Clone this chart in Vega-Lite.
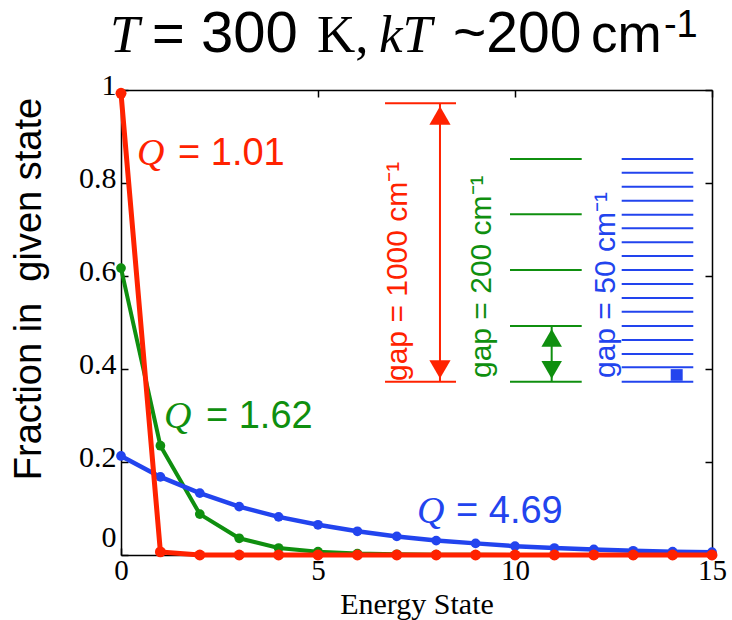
{
  "$schema": "https://vega.github.io/schema/vega-lite/v6.json",
  "width": 591,
  "height": 465,
  "autosize": {"type": "none"},
  "padding": {"left": 121, "top": 90, "right": 20, "bottom": 65},
  "background": "white",
  "config": {
    "view": {"stroke": null},
    "axis": {"domainColor": "black", "tickColor": "black", "domainWidth": 1.5, "tickWidth": 1.5, "grid": false, "labelFlush": false, "labelBound": false}
  },
  "data": {"values": [{}]},
  "datasets": {
    "states": [
      {"n": 0, "frac": 0.993, "gap": "1000"}, {"n": 1, "frac": 0.0067, "gap": "1000"}, {"n": 2, "frac": 0, "gap": "1000"}, {"n": 3, "frac": 0, "gap": "1000"},
      {"n": 4, "frac": 0, "gap": "1000"}, {"n": 5, "frac": 0, "gap": "1000"}, {"n": 6, "frac": 0, "gap": "1000"}, {"n": 7, "frac": 0, "gap": "1000"},
      {"n": 8, "frac": 0, "gap": "1000"}, {"n": 9, "frac": 0, "gap": "1000"}, {"n": 10, "frac": 0, "gap": "1000"}, {"n": 11, "frac": 0, "gap": "1000"},
      {"n": 12, "frac": 0, "gap": "1000"}, {"n": 13, "frac": 0, "gap": "1000"}, {"n": 14, "frac": 0, "gap": "1000"}, {"n": 15, "frac": 0, "gap": "1000"},
      {"n": 0, "frac": 0.617, "gap": "200"}, {"n": 1, "frac": 0.235, "gap": "200"}, {"n": 2, "frac": 0.088, "gap": "200"}, {"n": 3, "frac": 0.036, "gap": "200"},
      {"n": 4, "frac": 0.015, "gap": "200"}, {"n": 5, "frac": 0.007, "gap": "200"}, {"n": 6, "frac": 0.003, "gap": "200"}, {"n": 7, "frac": 0.0015, "gap": "200"},
      {"n": 8, "frac": 0.0007, "gap": "200"}, {"n": 9, "frac": 0.0003, "gap": "200"}, {"n": 10, "frac": 0.0001, "gap": "200"}, {"n": 11, "frac": 0, "gap": "200"},
      {"n": 12, "frac": 0, "gap": "200"}, {"n": 13, "frac": 0, "gap": "200"}, {"n": 14, "frac": 0, "gap": "200"}, {"n": 15, "frac": 0, "gap": "200"},
      {"n": 0, "frac": 0.213, "gap": "50"}, {"n": 1, "frac": 0.168, "gap": "50"}, {"n": 2, "frac": 0.133, "gap": "50"}, {"n": 3, "frac": 0.104, "gap": "50"},
      {"n": 4, "frac": 0.082, "gap": "50"}, {"n": 5, "frac": 0.065, "gap": "50"}, {"n": 6, "frac": 0.051, "gap": "50"}, {"n": 7, "frac": 0.04, "gap": "50"},
      {"n": 8, "frac": 0.031, "gap": "50"}, {"n": 9, "frac": 0.025, "gap": "50"}, {"n": 10, "frac": 0.019, "gap": "50"}, {"n": 11, "frac": 0.015, "gap": "50"},
      {"n": 12, "frac": 0.012, "gap": "50"}, {"n": 13, "frac": 0.009, "gap": "50"}, {"n": 14, "frac": 0.007, "gap": "50"}, {"n": 15, "frac": 0.006, "gap": "50"}
    ]
  },
  "layer": [
    {
      "data": {"name": "states"},
      "transform": [{"filter": "datum.gap === '200'"}],
      "mark": {"type": "line", "color": "#0f8f0f", "strokeWidth": 4, "point": {"filled": true, "size": 95, "color": "#0f8f0f"}},
      "encoding": {
        "x": {"field": "n", "type": "quantitative", "scale": {"domain": [0, 15], "nice": false, "zero": false},
          "axis": {"orient": "bottom", "values": [0, 5, 10, 15], "format": "~g", "labelFont": "Liberation Serif", "labelFontSize": 29, "labelColor": "black", "tickSize": -7, "labelPadding": 31, "labelBaseline": "alphabetic",
            "title": "Energy State", "titleFont": "Liberation Serif", "titleFontSize": 30, "titleFontWeight": "normal", "titleColor": "black", "titleY": 58, "titleBaseline": "alphabetic"}},
        "y": {"field": "frac", "type": "quantitative", "scale": {"domain": [0, 1], "nice": false, "zero": false},
          "axis": {"orient": "left", "values": [0, 0.2, 0.4, 0.6, 0.8, 1], "format": "~g", "labelFont": "Liberation Serif", "labelFontSize": 30, "labelColor": "black", "tickSize": -7, "labelPadding": 12, "labelBaseline": "middle",
            "labelOffset": {"condition": {"test": "datum.value === 0", "value": -18}, "value": -5},
            "title": "Fraction in \u00a0given state", "titleFont": "Liberation Sans", "titleFontSize": 38, "titleFontWeight": "normal", "titleColor": "black", "titleAngle": 270, "titleX": -80.5, "titleY": 198.5, "titleAlign": "center", "titleBaseline": "alphabetic"}}
      }
    },
    {
      "data": {"name": "states"},
      "transform": [{"filter": "datum.gap === '50'"}],
      "mark": {"type": "line", "color": "#2244ee", "strokeWidth": 4.5, "point": {"filled": true, "size": 95, "color": "#2244ee"}},
      "encoding": {
        "x": {"field": "n", "type": "quantitative", "scale": {"domain": [0, 15], "nice": false, "zero": false},
          "axis": {"orient": "top", "values": [0, 5, 10, 15], "labels": false, "tickSize": -7, "title": null}},
        "y": {"field": "frac", "type": "quantitative", "scale": {"domain": [0, 1], "nice": false, "zero": false},
          "axis": {"orient": "right", "values": [0, 0.2, 0.4, 0.6, 0.8, 1], "labels": false, "tickSize": -7, "title": null}}
      }
    },
    {
      "data": {"name": "states"},
      "transform": [{"filter": "datum.gap === '1000'"}],
      "mark": {"type": "line", "color": "#ff2200", "strokeWidth": 5, "point": {"filled": true, "size": 120, "color": "#ff2200"}},
      "encoding": {
        "x": {"field": "n", "type": "quantitative", "scale": {"domain": [0, 15], "nice": false, "zero": false}, "axis": null},
        "y": {"field": "frac", "type": "quantitative", "scale": {"domain": [0, 1], "nice": false, "zero": false}, "axis": null}
      }
    },
    {
      "data": {"values": [{"e": 0.3727}, {"e": 0.9714}]},
      "mark": {"type": "rule", "color": "#ff2200", "strokeWidth": 2},
      "encoding": {
        "x": {"datum": 6.701, "type": "quantitative", "scale": {"domain": [0, 15], "nice": false, "zero": false}, "axis": null},
        "x2": {"datum": 8.503},
        "y": {"field": "e", "type": "quantitative", "scale": {"domain": [0, 1], "nice": false, "zero": false}, "axis": null}
      }
    },
    {
      "data": {"values": [{"e": 0.3727}, {"e": 0.4925}, {"e": 0.6129}, {"e": 0.7327}, {"e": 0.8516}]},
      "mark": {"type": "rule", "color": "#0f8f0f", "strokeWidth": 2},
      "encoding": {
        "x": {"datum": 9.873, "type": "quantitative", "scale": {"domain": [0, 15], "nice": false, "zero": false}, "axis": null},
        "x2": {"datum": 11.693},
        "y": {"field": "e", "type": "quantitative", "scale": {"domain": [0, 1], "nice": false, "zero": false}, "axis": null}
      }
    },
    {
      "data": {"values": [{"e": 0.3727}, {"e": 0.4037}, {"e": 0.4323}, {"e": 0.4624}, {"e": 0.4925}, {"e": 0.5232}, {"e": 0.5527}, {"e": 0.5828}, {"e": 0.6129}, {"e": 0.643}, {"e": 0.6725}, {"e": 0.7026}, {"e": 0.7318}, {"e": 0.7619}, {"e": 0.792}, {"e": 0.8222}, {"e": 0.8516}]},
      "mark": {"type": "rule", "color": "#2244ee", "strokeWidth": 2},
      "encoding": {
        "x": {"datum": 12.708, "type": "quantitative", "scale": {"domain": [0, 15], "nice": false, "zero": false}, "axis": null},
        "x2": {"datum": 14.525},
        "y": {"field": "e", "type": "quantitative", "scale": {"domain": [0, 1], "nice": false, "zero": false}, "axis": null}
      }
    },
    {
      "mark": {"type": "rule", "color": "#ff2200", "strokeWidth": 2},
      "encoding": {
        "x": {"datum": 8.096, "type": "quantitative", "scale": {"domain": [0, 15], "nice": false, "zero": false}, "axis": null},
        "y": {"datum": 0.3727, "type": "quantitative", "scale": {"domain": [0, 1], "nice": false, "zero": false}, "axis": null},
        "y2": {"datum": 0.9714}
      }
    },
    {
      "mark": {"type": "point", "shape": "triangle-up", "filled": true, "size": 450, "color": "#ff2200", "opacity": 1},
      "encoding": {
        "x": {"datum": 8.096, "type": "quantitative", "scale": {"domain": [0, 15], "nice": false, "zero": false}, "axis": null},
        "y": {"datum": 0.9452, "type": "quantitative", "scale": {"domain": [0, 1], "nice": false, "zero": false}, "axis": null}
      }
    },
    {
      "mark": {"type": "point", "shape": "triangle-down", "filled": true, "size": 450, "color": "#ff2200", "opacity": 1},
      "encoding": {
        "x": {"datum": 8.096, "type": "quantitative", "scale": {"domain": [0, 15], "nice": false, "zero": false}, "axis": null},
        "y": {"datum": 0.3991, "type": "quantitative", "scale": {"domain": [0, 1], "nice": false, "zero": false}, "axis": null}
      }
    },
    {
      "mark": {"type": "rule", "color": "#0f8f0f", "strokeWidth": 2},
      "encoding": {
        "x": {"datum": 10.931, "type": "quantitative", "scale": {"domain": [0, 15], "nice": false, "zero": false}, "axis": null},
        "y": {"datum": 0.3727, "type": "quantitative", "scale": {"domain": [0, 1], "nice": false, "zero": false}, "axis": null},
        "y2": {"datum": 0.4925}
      }
    },
    {
      "mark": {"type": "point", "shape": "triangle-up", "filled": true, "size": 420, "color": "#0f8f0f", "opacity": 1},
      "encoding": {
        "x": {"datum": 10.931, "type": "quantitative", "scale": {"domain": [0, 15], "nice": false, "zero": false}, "axis": null},
        "y": {"datum": 0.4671, "type": "quantitative", "scale": {"domain": [0, 1], "nice": false, "zero": false}, "axis": null}
      }
    },
    {
      "mark": {"type": "point", "shape": "triangle-down", "filled": true, "size": 420, "color": "#0f8f0f", "opacity": 1},
      "encoding": {
        "x": {"datum": 10.931, "type": "quantitative", "scale": {"domain": [0, 15], "nice": false, "zero": false}, "axis": null},
        "y": {"datum": 0.3981, "type": "quantitative", "scale": {"domain": [0, 1], "nice": false, "zero": false}, "axis": null}
      }
    },
    {
      "mark": {"type": "rule", "color": "#2244ee", "strokeWidth": 12},
      "encoding": {
        "x": {"datum": 14.104, "type": "quantitative", "scale": {"domain": [0, 15], "nice": false, "zero": false}, "axis": null},
        "y": {"datum": 0.3747, "type": "quantitative", "scale": {"domain": [0, 1], "nice": false, "zero": false}, "axis": null},
        "y2": {"datum": 0.3997}
      }
    },
    {
      "mark": {"type": "text", "text": "gap = 1000 cm\u207b\u00b9", "angle": 270, "align": "left", "baseline": "alphabetic", "font": "Liberation Sans", "fontSize": 30, "color": "#ff2200"},
      "encoding": {
        "x": {"datum": 7.259, "type": "quantitative", "scale": {"domain": [0, 15], "nice": false, "zero": false}, "axis": null},
        "y": {"datum": 0.3742, "type": "quantitative", "scale": {"domain": [0, 1], "nice": false, "zero": false}, "axis": null}
      }
    },
    {
      "mark": {"type": "text", "text": "gap = 200 cm\u207b\u00b9", "angle": 270, "align": "left", "baseline": "alphabetic", "font": "Liberation Sans", "fontSize": 30, "color": "#0f8f0f"},
      "encoding": {
        "x": {"datum": 9.391, "type": "quantitative", "scale": {"domain": [0, 15], "nice": false, "zero": false}, "axis": null},
        "y": {"datum": 0.3806, "type": "quantitative", "scale": {"domain": [0, 1], "nice": false, "zero": false}, "axis": null}
      }
    },
    {
      "mark": {"type": "text", "text": "gap = 50 cm\u207b\u00b9", "angle": 270, "align": "left", "baseline": "alphabetic", "font": "Liberation Sans", "fontSize": 30, "color": "#2244ee"},
      "encoding": {
        "x": {"datum": 12.53, "type": "quantitative", "scale": {"domain": [0, 15], "nice": false, "zero": false}, "axis": null},
        "y": {"datum": 0.3806, "type": "quantitative", "scale": {"domain": [0, 1], "nice": false, "zero": false}, "axis": null}
      }
    },
    {
      "mark": {"type": "text", "text": "Q", "align": "left", "baseline": "alphabetic", "font": "Liberation Serif", "fontStyle": "italic", "fontSize": 38, "color": "#ff2200"},
      "encoding": {
        "x": {"datum": 0.406, "type": "quantitative", "scale": {"domain": [0, 15], "nice": false, "zero": false}, "axis": null},
        "y": {"datum": 0.8387, "type": "quantitative", "scale": {"domain": [0, 1], "nice": false, "zero": false}, "axis": null}
      }
    },
    {
      "mark": {"type": "text", "text": "= 1.01", "align": "left", "baseline": "alphabetic", "font": "Liberation Sans", "fontSize": 38, "color": "#ff2200"},
      "encoding": {
        "x": {"datum": 1.447, "type": "quantitative", "scale": {"domain": [0, 15], "nice": false, "zero": false}, "axis": null},
        "y": {"datum": 0.8387, "type": "quantitative", "scale": {"domain": [0, 1], "nice": false, "zero": false}, "axis": null}
      }
    },
    {
      "mark": {"type": "text", "text": "Q", "align": "left", "baseline": "alphabetic", "font": "Liberation Serif", "fontStyle": "italic", "fontSize": 38, "color": "#0f8f0f"},
      "encoding": {
        "x": {"datum": 1.091, "type": "quantitative", "scale": {"domain": [0, 15], "nice": false, "zero": false}, "axis": null},
        "y": {"datum": 0.2731, "type": "quantitative", "scale": {"domain": [0, 1], "nice": false, "zero": false}, "axis": null}
      }
    },
    {
      "mark": {"type": "text", "text": "= 1.62", "align": "left", "baseline": "alphabetic", "font": "Liberation Sans", "fontSize": 38, "color": "#0f8f0f"},
      "encoding": {
        "x": {"datum": 2.157, "type": "quantitative", "scale": {"domain": [0, 15], "nice": false, "zero": false}, "axis": null},
        "y": {"datum": 0.2731, "type": "quantitative", "scale": {"domain": [0, 1], "nice": false, "zero": false}, "axis": null}
      }
    },
    {
      "mark": {"type": "text", "text": "Q", "align": "left", "baseline": "alphabetic", "font": "Liberation Serif", "fontStyle": "italic", "fontSize": 38, "color": "#2244ee"},
      "encoding": {
        "x": {"datum": 7.513, "type": "quantitative", "scale": {"domain": [0, 15], "nice": false, "zero": false}, "axis": null},
        "y": {"datum": 0.0688, "type": "quantitative", "scale": {"domain": [0, 1], "nice": false, "zero": false}, "axis": null}
      }
    },
    {
      "mark": {"type": "text", "text": "= 4.69", "align": "left", "baseline": "alphabetic", "font": "Liberation Sans", "fontSize": 38, "color": "#2244ee"},
      "encoding": {
        "x": {"datum": 8.503, "type": "quantitative", "scale": {"domain": [0, 15], "nice": false, "zero": false}, "axis": null},
        "y": {"datum": 0.0688, "type": "quantitative", "scale": {"domain": [0, 1], "nice": false, "zero": false}, "axis": null}
      }
    },
    {
      "mark": {"type": "text", "text": "T", "align": "left", "baseline": "alphabetic", "font": "Liberation Serif", "fontStyle": "italic", "fontSize": 53, "color": "black"},
      "encoding": {
        "x": {"datum": -0.279, "type": "quantitative", "scale": {"domain": [0, 15], "nice": false, "zero": false}, "axis": null},
        "y": {"datum": 1.0817, "type": "quantitative", "scale": {"domain": [0, 1], "nice": false, "zero": false}, "axis": null}
      }
    },
    {
      "mark": {"type": "text", "text": "=", "align": "left", "baseline": "alphabetic", "font": "Liberation Sans", "fontSize": 56, "color": "black"},
      "encoding": {
        "x": {"datum": 0.787, "type": "quantitative", "scale": {"domain": [0, 15], "nice": false, "zero": false}, "axis": null},
        "y": {"datum": 1.0817, "type": "quantitative", "scale": {"domain": [0, 1], "nice": false, "zero": false}, "axis": null}
      }
    },
    {
      "mark": {"type": "text", "text": "300", "align": "left", "baseline": "alphabetic", "font": "Liberation Sans", "fontSize": 58, "color": "black"},
      "encoding": {
        "x": {"datum": 2.03, "type": "quantitative", "scale": {"domain": [0, 15], "nice": false, "zero": false}, "axis": null},
        "y": {"datum": 1.0817, "type": "quantitative", "scale": {"domain": [0, 1], "nice": false, "zero": false}, "axis": null}
      }
    },
    {
      "mark": {"type": "text", "text": "K,", "align": "left", "baseline": "alphabetic", "font": "Liberation Serif", "fontSize": 53, "color": "black"},
      "encoding": {
        "x": {"datum": 4.975, "type": "quantitative", "scale": {"domain": [0, 15], "nice": false, "zero": false}, "axis": null},
        "y": {"datum": 1.0817, "type": "quantitative", "scale": {"domain": [0, 1], "nice": false, "zero": false}, "axis": null}
      }
    },
    {
      "mark": {"type": "text", "text": "kT", "align": "left", "baseline": "alphabetic", "font": "Liberation Serif", "fontStyle": "italic", "fontSize": 53, "color": "black"},
      "encoding": {
        "x": {"datum": 6.548, "type": "quantitative", "scale": {"domain": [0, 15], "nice": false, "zero": false}, "axis": null},
        "y": {"datum": 1.0817, "type": "quantitative", "scale": {"domain": [0, 1], "nice": false, "zero": false}, "axis": null}
      }
    },
    {
      "mark": {"type": "text", "text": "~200", "align": "left", "baseline": "alphabetic", "font": "Liberation Sans", "fontSize": 57, "color": "black"},
      "encoding": {
        "x": {"datum": 8.426, "type": "quantitative", "scale": {"domain": [0, 15], "nice": false, "zero": false}, "axis": null},
        "y": {"datum": 1.0817, "type": "quantitative", "scale": {"domain": [0, 1], "nice": false, "zero": false}, "axis": null}
      }
    },
    {
      "mark": {"type": "text", "text": "cm", "align": "left", "baseline": "alphabetic", "font": "Liberation Sans", "fontSize": 53, "color": "black"},
      "encoding": {
        "x": {"datum": 11.93, "type": "quantitative", "scale": {"domain": [0, 15], "nice": false, "zero": false}, "axis": null},
        "y": {"datum": 1.0817, "type": "quantitative", "scale": {"domain": [0, 1], "nice": false, "zero": false}, "axis": null}
      }
    },
    {
      "mark": {"type": "text", "text": "-1", "align": "left", "baseline": "alphabetic", "font": "Liberation Sans", "fontSize": 38, "color": "black"},
      "encoding": {
        "x": {"datum": 13.78, "type": "quantitative", "scale": {"domain": [0, 15], "nice": false, "zero": false}, "axis": null},
        "y": {"datum": 1.114, "type": "quantitative", "scale": {"domain": [0, 1], "nice": false, "zero": false}, "axis": null}
      }
    }
  ],
  "resolve": {"axis": {"x": "independent", "y": "independent"}}
}
